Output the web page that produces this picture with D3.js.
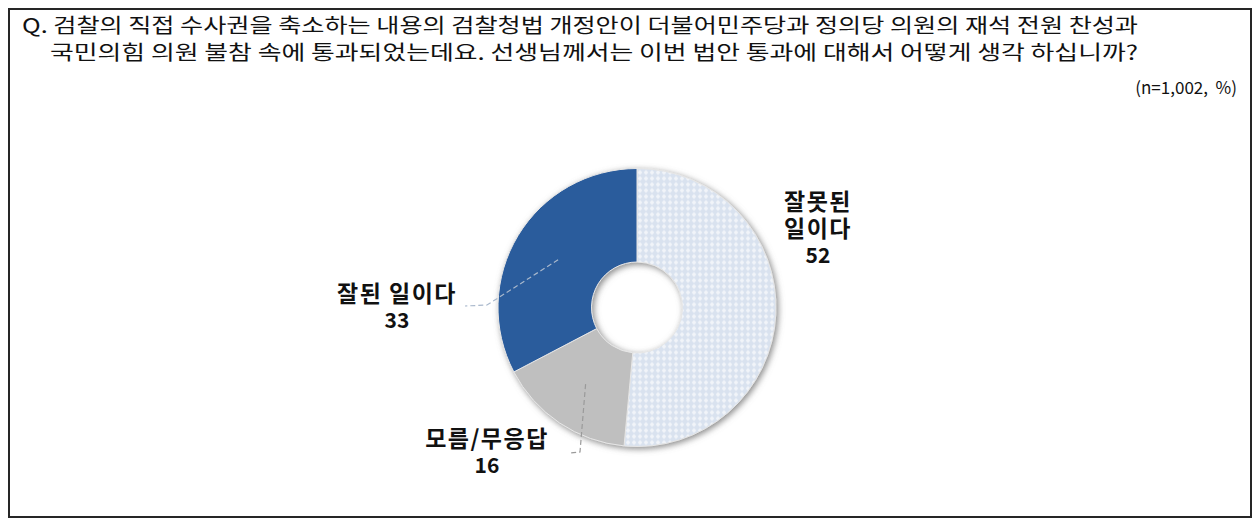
<!DOCTYPE html>
<html><head><meta charset="utf-8">
<script src="https://cdn.jsdelivr.net/npm/d3@7"></script>
<style>body{margin:0;background:#fff} svg{display:block}</style>
</head><body>
<script>
// ---- data ----
const categories = ["잘못된 일이다", "모름/무응답", "잘된 일이다"];
const values = [52, 16, 33];
const labelLines = [["잘못된", "일이다"], ["모름/무응답"], ["잘된 일이다"]];
const titleLines = [
  "Q. 검찰의 직접 수사권을 축소하는 내용의 검찰청법 개정안이 더불어민주당과 정의당 의원의 재석 전원 찬성과",
  "국민의힘 의원 불참 속에 통과되었는데요. 선생님께서는 이번 법안 통과에 대해서 어떻게 생각 하십니까?"
];
const noteText = "(n=1,002,  %)";

// ---- layout ----
const W = 1259, H = 526;
const cx = 637, cy = 307.5, rOut = 139, rIn = 45.5;
const font = "'Noto Sans CJK KR','Noto Sans',sans-serif";

const svg = d3.select("body").append("svg").attr("width", W).attr("height", H);
const defs = svg.append("defs");

const pat = defs.append("pattern").attr("id", "pat").attr("width", 6).attr("height", 6)
  .attr("patternUnits", "userSpaceOnUse");
pat.append("rect").attr("width", 6).attr("height", 6).attr("fill", "#d9e2ef");
pat.append("path").attr("d", "M3,0.6 L5.4,3 L3,5.4 L0.6,3Z").attr("fill", "#f1f4f9");

const flt = defs.append("filter").attr("id", "sh").attr("x", "-20%").attr("y", "-20%")
  .attr("width", "140%").attr("height", "140%");
flt.append("feGaussianBlur").attr("in", "SourceAlpha").attr("stdDeviation", 3.4).attr("result", "b");
flt.append("feOffset").attr("in", "b").attr("dx", 1.5).attr("dy", 1.5).attr("result", "o");
flt.append("feFlood").attr("flood-color", "#6f6f6f").attr("flood-opacity", 0.8);
flt.append("feComposite").attr("in2", "o").attr("operator", "in").attr("result", "s");
const fm = flt.append("feMerge");
fm.append("feMergeNode").attr("in", "s");
fm.append("feMergeNode").attr("in", "SourceGraphic");

// frame
svg.append("rect").attr("x", 9).attr("y", 9).attr("width", 1242).attr("height", 508)
  .attr("fill", "none").attr("stroke", "#262626").attr("stroke-width", 2);

// title
const tl = [{x: 22, y: 24, end: 1138}, {x: 50, y: 51, end: 1138}];
titleLines.forEach((t, i) => {
  svg.append("text").attr("x", tl[i].x).attr("y", tl[i].y)
    .attr("dominant-baseline", "central")
    .attr("font-family", font).attr("font-size", 20).attr("fill", "#111")
    .attr("textLength", tl[i].end - tl[i].x).attr("lengthAdjust", "spacingAndGlyphs")
    .text(t);
});
svg.append("text").attr("x", 1237).attr("y", 86).attr("text-anchor", "end")
  .attr("dominant-baseline", "central").style("white-space", "pre")
  .attr("font-family", font).attr("font-size", 17).attr("fill", "#111").text(noteText);

// donut
const colors = ["url(#pat)", "#bfbfbf", "#2a5b9c"];
const pie = d3.pie().sort(null).value(d => d);
const arcs = pie(values);
const arc = d3.arc().innerRadius(rIn).outerRadius(rOut);
const g = svg.append("g").attr("transform", `translate(${cx},${cy})`);
g.append("g").attr("filter", "url(#sh)")
  .selectAll("path").data(arcs).join("path")
  .attr("d", arc).attr("fill", (d, i) => colors[i])
  .attr("stroke", "#e6e6e6").attr("stroke-width", 1);

// leader lines
const cent = arcs.map(a => arc.centroid(a));
const leaders = [
  null,
  [[cent[1][0] + cx, cent[1][1] + cy], [580, 452], [570, 453]],
  [[cent[2][0] + cx, cent[2][1] + cy], [487, 305], [465, 306]]
];
const leaderColor = ["", "#9a9a9a", "#a9b8cc"];
leaders.forEach((pts, i) => {
  if (!pts) return;
  svg.append("path").attr("d", d3.line()(pts)).attr("fill", "none")
    .attr("stroke", leaderColor[i]).attr("stroke-width", 1.2).attr("stroke-dasharray", "5,3");
});

// labels
const labelPos = [{x: 818, y: 200}, {x: 487, y: 437}, {x: 397, y: 292}];
arcs.forEach((a, i) => {
  const lines = labelLines[i];
  lines.forEach((l, j) => {
    svg.append("text").attr("text-anchor", "middle")
      .attr("x", labelPos[i].x).attr("y", labelPos[i].y + j * 26.5)
      .attr("dominant-baseline", "central")
      .attr("font-family", font).attr("font-size", 23).attr("letter-spacing", 1.5)
      .attr("font-weight", 700).attr("fill", "#111").text(l);
  });
  svg.append("text").attr("text-anchor", "middle")
    .attr("x", labelPos[i].x).attr("y", labelPos[i].y + lines.length * 26.5 + 0.5)
    .attr("dominant-baseline", "central")
    .attr("font-family", font).attr("font-size", 21).attr("font-weight", 700)
    .attr("fill", "#111").text(String(values[i]));
});
</script>
</body></html>
